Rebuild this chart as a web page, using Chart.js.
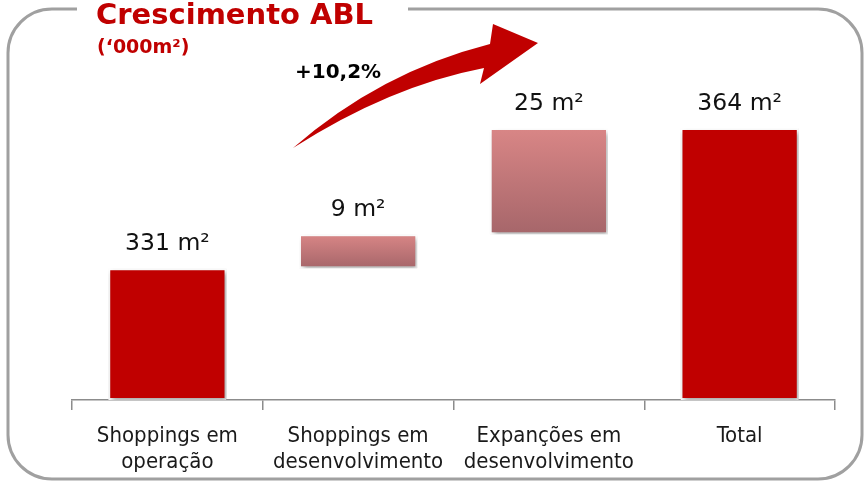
<!DOCTYPE html>
<html>
<head>
<meta charset="utf-8">
<script src="https://cdn.jsdelivr.net/npm/chart.js@4.4.1/dist/chart.umd.min.js"></script>
<style>
  html, body { margin: 0; padding: 0; background: #fff; }
  #wrap { position: relative; width: 865px; height: 482px; }
</style>
</head>
<body>
<div id="wrap"><canvas id="c" width="865" height="482"></canvas></div>
<script>
// chart data
const categories = [['Shoppings em', 'operação'], ['Shoppings em', 'desenvolvimento'], ['Expanções em', 'desenvolvimento'], 'Total'];
const operating = 331;
const increments = [9, 25];
const total = 364;
const valueLabels = ['331 m²', '9 m²', '25 m²', '364 m²'];
const axisMin = 300;
const axisMax = 380;
const growthLabel = '+10,2%';

// floating ranges for the waterfall
const ranges = [
    [axisMin, operating],
    [operating, total - increments[1]],
    [total - increments[1], total],
    [axisMin, total]
];

const RED = '#C00000';

function barFill(ctx) {
    const chart = ctx.chart;
    const i = ctx.dataIndex;
    if (i === 0 || i === 3) return RED;
    const y = chart.scales.y;
    if (!chart.chartArea || !y) return '#C47878';
    const top = y.getPixelForValue(ranges[i][1]);
    const bot = y.getPixelForValue(ranges[i][0]);
    const g = chart.ctx.createLinearGradient(0, top, 0, bot);
    g.addColorStop(0, '#D98686');
    g.addColorStop(1, '#A6666A');
    return g;
}

// frame, title, arrow and value labels
const decor = {
    id: 'decor',
    beforeDraw(chart) {
        const ctx = chart.ctx;
        ctx.save();
        ctx.strokeStyle = '#A0A0A0';
        ctx.lineWidth = 3;
        const x0 = 8, y0 = 9, x1 = 862, y1 = 479, r = 44;
        ctx.beginPath();
        ctx.moveTo(77, y0);
        ctx.lineTo(x0 + r, y0);
        ctx.arcTo(x0, y0, x0, y0 + r, r);
        ctx.lineTo(x0, y1 - r);
        ctx.arcTo(x0, y1, x0 + r, y1, r);
        ctx.lineTo(x1 - r, y1);
        ctx.arcTo(x1, y1, x1, y1 - r, r);
        ctx.lineTo(x1, y0 + r);
        ctx.arcTo(x1, y0, x1 - r, y0, r);
        ctx.lineTo(408, y0);
        ctx.stroke();

        ctx.fillStyle = RED;
        ctx.textBaseline = 'alphabetic';
        ctx.textAlign = 'left';
        ctx.font = 'bold 29px "DejaVu Sans"';
        ctx.fillText('Crescimento ABL', 96, 24);
        ctx.font = 'bold 19px "DejaVu Sans"';
        ctx.fillText('(\u2018000m²)', 97, 53);

        ctx.fillStyle = '#000';
        ctx.font = 'bold 20px "DejaVu Sans"';
        ctx.fillText(growthLabel, 295, 78);

        // curved arrow
        ctx.fillStyle = RED;
        ctx.beginPath();
        ctx.moveTo(293, 148);
        ctx.quadraticCurveTo(380, 72, 490, 44);
        ctx.lineTo(493, 24);
        ctx.lineTo(538, 43);
        ctx.lineTo(480, 84);
        ctx.lineTo(484, 68);
        ctx.quadraticCurveTo(390, 86, 293, 148);
        ctx.closePath();
        ctx.fill();
        ctx.restore();
    },
    beforeDatasetsDraw(chart) {
        const ctx = chart.ctx;
        ctx.save();
        ctx.shadowColor = 'rgba(0,0,0,0.35)';
        ctx.shadowBlur = 5;
        ctx.shadowOffsetX = 2;
        ctx.shadowOffsetY = 3;
    },
    afterDatasetsDraw(chart) {
        const ctx = chart.ctx;
        ctx.restore();
        ctx.save();
        const meta = chart.getDatasetMeta(0);
        ctx.fillStyle = '#111';
        ctx.font = '23.5px "DejaVu Sans"';
        ctx.textAlign = 'center';
        ctx.textBaseline = 'middle';
        meta.data.forEach((bar, i) => {
            ctx.fillText(valueLabels[i], bar.x, Math.min(bar.y, bar.base) - 24);
        });
        ctx.restore();
    }
};

new Chart(document.getElementById('c'), {
    type: 'bar',
    data: {
        labels: categories,
        datasets: [{
            data: ranges,
            backgroundColor: barFill,
            borderColor: '#ffffff',
            borderWidth: 2,
            borderSkipped: false,
            barPercentage: 0.62,
            categoryPercentage: 1
        }]
    },
    options: {
        responsive: false,
        animation: false,
        layout: { padding: { left: 72, right: 30, top: 60, bottom: 7 } },
        plugins: {
            legend: { display: false },
            tooltip: { enabled: false }
        },
        scales: {
            x: {
                afterFit(scale) { scale.height = 75; },
                grid: {
                    display: true,
                    drawOnChartArea: false,
                    drawTicks: true,
                    tickLength: 10,
                    color: '#8c8c8c',
                    lineWidth: 1.5
                },
                border: { display: true, color: '#8c8c8c', width: 1.5 },
                ticks: {
                    color: '#1a1a1a',
                    padding: 14,
                    maxRotation: 0,
                    font: { family: '"DejaVu Sans Condensed", "DejaVu Sans"', size: 22, lineHeight: 1.15 }
                }
            },
            y: {
                display: false,
                min: axisMin,
                max: axisMax
            }
        }
    },
    plugins: [decor]
});
</script>
</body>
</html>
